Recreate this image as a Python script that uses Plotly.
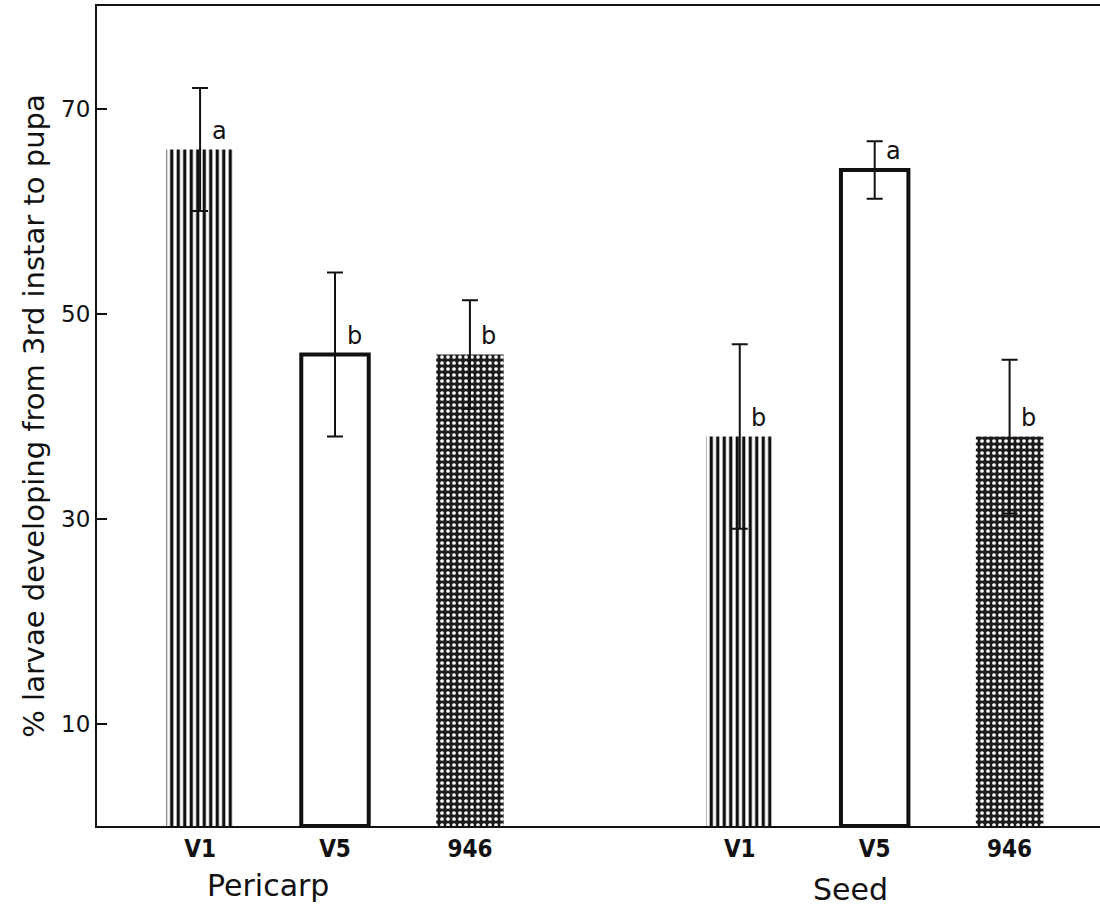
import plotly.graph_objects as go

# Cultivars within each tissue and the two tissues tested
cultivars = ["V1", "V5", "946"]
tissues = ["Pericarp", "Seed"]

# Mean % of larvae developing from 3rd instar to pupa, with error bars
pericarp_mean = [66, 46, 46]
pericarp_err = [6, 8, 5.3]
seed_mean = [38, 64, 38]
seed_err = [9, 2.8, 7.5]

# Significance letters
pericarp_letters = ["a", "b", "b"]
seed_letters = ["b", "a", "b"]

FONT = "DejaVu Sans"
COND = "DejaVu Sans Condensed, DejaVu Sans"
GROUP_GAP = 4  # slot offset of the second tissue group

means = [pericarp_mean, seed_mean]
errs = [pericarp_err, seed_err]
letters = [pericarp_letters, seed_letters]

pos = {}
for g in range(len(tissues)):
    for c in range(len(cultivars)):
        pos[(g, c)] = g * GROUP_GAP + c

styles = {
    "V1": dict(color="white",
               pattern=dict(shape="|", size=6.5, solidity=0.5,
                            fgcolor="#111111", bgcolor="white", fillmode="replace"),
               line=dict(width=0)),
    "V5": dict(color="white", line=dict(color="#111111", width=4)),
    "946": dict(color="#1a1a1a",
                pattern=dict(shape=".", size=6, solidity=0.3,
                             fgcolor="white", bgcolor="#1c1c1c", fillmode="replace"),
                line=dict(width=0)),
}

fig = go.Figure()
for c, name in enumerate(cultivars):
    xs = [pos[(g, c)] for g in range(len(tissues))]
    ys = [means[g][c] for g in range(len(tissues))]
    es = [errs[g][c] for g in range(len(tissues))]
    fig.add_trace(go.Bar(
        x=xs, y=ys, width=0.5, name=name,
        marker=styles[name],
        error_y=dict(type="data", array=es, visible=True,
                     color="#111111", thickness=2, width=8),
        showlegend=False,
    ))

# Significance letters beside each error bar
for g in range(len(tissues)):
    for c in range(len(cultivars)):
        fig.add_annotation(
            x=pos[(g, c)], y=means[g][c], text=letters[g][c],
            showarrow=False, xanchor="center", yanchor="middle",
            xshift=19, yshift=19,
            font=dict(family=FONT, size=24, color="#111111"),
        )

# Tissue group labels under the cultivar ticks
group_label_x = [0.5, 4.82]
group_label_y = [-0.072, -0.078]
for g, t in enumerate(tissues):
    fig.add_annotation(
        x=group_label_x[g], y=group_label_y[g], xref="x", yref="paper",
        text=t, showarrow=False, xanchor="center", yanchor="middle",
        font=dict(family=FONT, size=30, color="#111111"),
    )

tickvals = [pos[(g, c)] for g in range(len(tissues)) for c in range(len(cultivars))]
ticktext = ["<b>%s</b>" % cultivars[c] for g in range(len(tissues)) for c in range(len(cultivars))]

fig.update_layout(
    width=1100, height=910,
    margin=dict(l=97, r=0, t=6, b=84),
    paper_bgcolor="white", plot_bgcolor="white",
    barmode="overlay",
    font=dict(family=FONT, color="#111111"),
    xaxis=dict(
        range=[-0.764, 6.67],
        tickvals=tickvals, ticktext=ticktext,
        ticks="", showgrid=False, zeroline=False,
        showline=True, linecolor="#111111", linewidth=2, mirror=True,
        tickfont=dict(family=COND, size=24, color="#111111"),
    ),
    yaxis=dict(
        range=[0, 80],
        tickvals=[10, 30, 50, 70],
        ticks="inside", ticklen=10, tickwidth=2, tickcolor="#111111",
        showgrid=False, zeroline=False,
        showline=True, linecolor="#111111", linewidth=2,
        tickfont=dict(family=FONT, size=23, color="#111111"),
        title=dict(text="% larvae developing from 3rd instar to pupa",
                   font=dict(family=FONT, size=29, color="#111111"),
                   standoff=8),
    ),
)

fig.write_html("out.html")
